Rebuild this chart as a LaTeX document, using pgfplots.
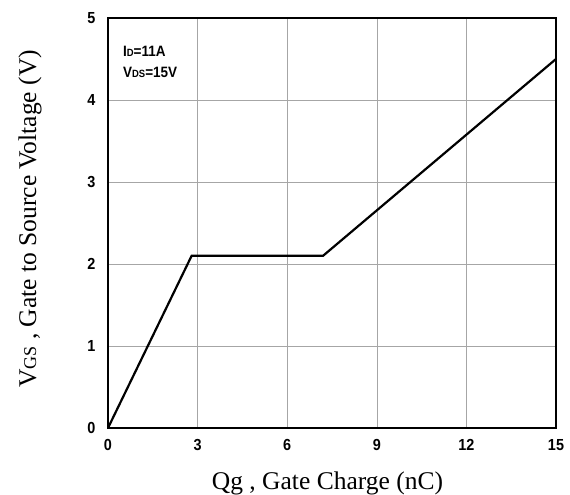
\documentclass[border=0pt]{standalone}
\usepackage{fontspec}
\setmainfont{Liberation Serif}
\newfontfamily\arialn[FakeStretch=0.9]{Liberation Sans}
\usepackage{pgfplots}
\pgfplotsset{compat=1.18}
\begin{document}
\begin{tikzpicture}
\begin{axis}[
  name=ax,
  width=448pt, height=410pt, scale only axis,
  xmin=0, xmax=15, ymin=0, ymax=5,
  xtick={0,3,...,15}, ytick={0,1,...,5},
  grid=major, major grid style={gray!70, line width=0.6pt},
  axis line style={black, line width=1.6pt},
  major tick length=0pt,
  /pgf/number format/assume math mode=true,
  tick label style={font=\arialn\bfseries\fontsize{16}{16}\selectfont},
  xticklabel style={yshift=-8pt},
  yticklabel style={xshift=-9pt},
  xlabel={Qg , Gate Charge (nC)},
  ylabel={V{\fontsize{18}{18}\selectfont GS} , Gate to Source Voltage (V)},
  label style={font=\fontsize{25.5}{27}\selectfont},
  xlabel style={at={(axis description cs:0.49,-0.134)}, anchor=center},
  ylabel style={at={(axis description cs:-0.174,0.51)}, anchor=center},
  clip=false,
]
\addplot[black, line width=2.2pt] coordinates {(0,0) (2.8,2.1) (7.2,2.1) (15,4.5)};
\node[anchor=west, font=\arialn\bfseries\fontsize{15}{15}\selectfont, align=left, inner sep=0pt]
  at (axis cs:0.5,4.46) {I{\fontsize{10.5}{10.5}\selectfont D}=11A\\[6pt]V{\fontsize{10.5}{10.5}\selectfont DS}=15V};
\end{axis}
\pgfresetboundingbox
\path[use as bounding box] ([shift={(-108pt,-67pt)}]ax.south west) rectangle ([shift={(14pt,18pt)}]ax.north east);
\end{tikzpicture}
\end{document}
